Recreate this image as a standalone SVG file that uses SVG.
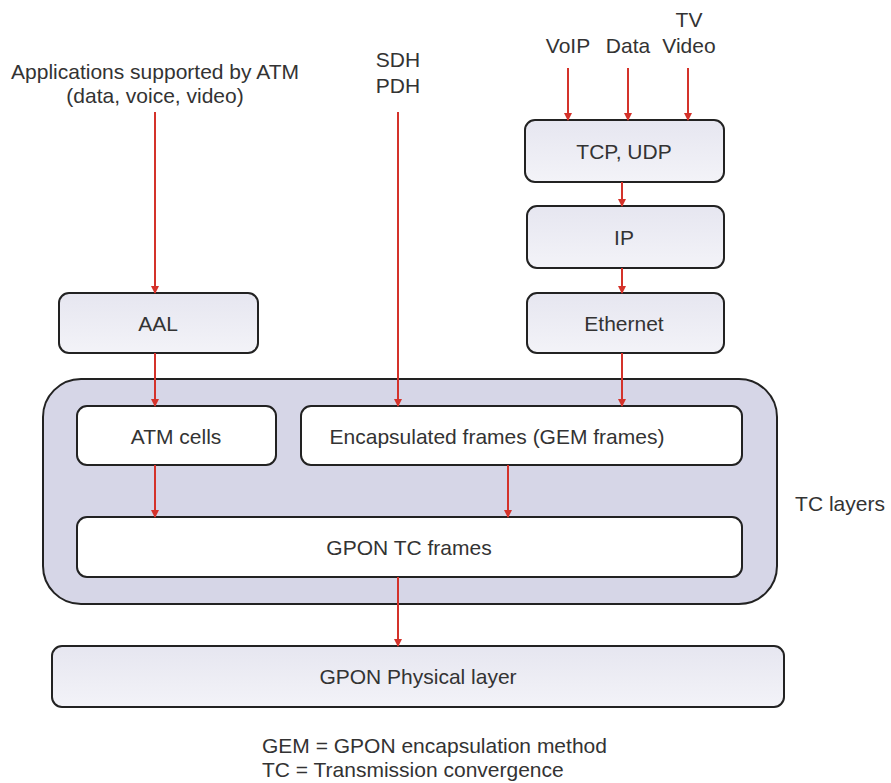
<svg xmlns="http://www.w3.org/2000/svg" width="891" height="783" viewBox="0 0 891 783">
<defs>
<linearGradient id="g" x1="0" y1="0" x2="0" y2="1">
<stop offset="0" stop-color="#e6e6f0"/>
<stop offset="1" stop-color="#f3f3f8"/>
</linearGradient>
<marker id="ah" markerWidth="8" markerHeight="8" refX="7" refY="4" orient="auto" markerUnits="userSpaceOnUse">
<path d="M0,0 L8,4 L0,8 Z" fill="#d4322a"/>
</marker>
</defs>
<style>
text{font-family:"Liberation Sans",Arial,sans-serif;font-size:21px;fill:#333;text-anchor:middle}
.box{fill:url(#g);stroke:#222;stroke-width:2}
.wbox{fill:#fff;stroke:#222;stroke-width:2}
.big{fill:#d6d6e7;stroke:#222;stroke-width:2}
.c line{stroke:#d4322a;stroke-width:2;marker-end:url(#ah)}
</style>
<rect width="891" height="783" fill="#fff"/>
<g id="labels">
<text x="155" y="79">Applications supported by ATM</text>
<text x="155" y="103">(data, voice, video)</text>
<text x="398" y="67">SDH</text>
<text x="398" y="93">PDH</text>
<text x="568" y="53">VoIP</text>
<text x="628" y="53">Data</text>
<text x="689" y="27">TV</text>
<text x="689" y="53">Video</text>
</g>
<g id="tc-layers">
<rect class="big" x="43" y="379" width="734" height="225" rx="38"/>
<text x="840" y="511">TC layers</text>
</g>
<g id="tcp"><rect class="box" x="525" y="120" width="199" height="62" rx="10"/><text x="624" y="159">TCP, UDP</text></g>
<g id="ip"><rect class="box" x="527" y="206" width="197" height="62" rx="10"/><text x="624" y="245">IP</text></g>
<g id="ethernet"><rect class="box" x="527" y="293" width="197" height="60" rx="10"/><text x="624" y="331">Ethernet</text></g>
<g id="aal"><rect class="box" x="59" y="293" width="199" height="60" rx="10"/><text x="158" y="331">AAL</text></g>
<g id="atm"><rect class="wbox" x="77" y="406" width="199" height="59" rx="10"/><text x="176" y="444">ATM cells</text></g>
<g id="gem"><rect class="wbox" x="301" y="406" width="441" height="59" rx="10"/><text x="497" y="444">Encapsulated frames (GEM frames)</text></g>
<g id="gpontc"><rect class="wbox" x="77" y="517" width="665" height="60" rx="10"/><text x="409" y="555">GPON TC frames</text></g>
<g id="phy"><rect class="box" x="52" y="646" width="732" height="61" rx="10"/><text x="418" y="684">GPON Physical layer</text></g>
<g id="notes">
<text x="262" y="753" style="text-anchor:start">GEM = GPON encapsulation method</text>
<text x="262" y="777" style="text-anchor:start">TC = Transmission convergence</text>
</g>
<g class="c" id="connectors">
<line x1="155" y1="112" x2="155" y2="293"/>
<line x1="398" y1="112" x2="398" y2="406"/>
<line x1="568" y1="68" x2="568" y2="120"/>
<line x1="628" y1="68" x2="628" y2="120"/>
<line x1="688" y1="68" x2="688" y2="120"/>
<line x1="622" y1="182" x2="622" y2="206"/>
<line x1="622" y1="268" x2="622" y2="293"/>
<line x1="622" y1="353" x2="622" y2="406"/>
<line x1="155" y1="353" x2="155" y2="406"/>
<line x1="155" y1="465" x2="155" y2="517"/>
<line x1="508" y1="465" x2="508" y2="517"/>
<line x1="398" y1="577" x2="398" y2="646"/>
</g>
</svg>
